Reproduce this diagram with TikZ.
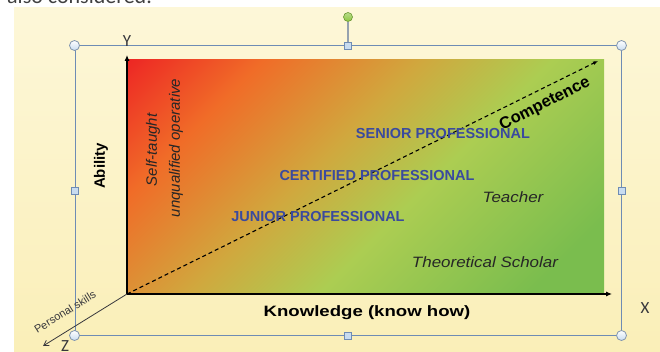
\documentclass[tikz,border=0pt]{standalone}
\usepackage{fontspec}
\setmainfont{Liberation Sans}
\newfontfamily\carl{Carlito}
\usetikzlibrary{arrows.meta}
\definecolor{cRed}{RGB}{237,36,36}
\definecolor{cOrange}{RGB}{240,108,40}
\definecolor{cOlive}{RGB}{208,168,62}
\definecolor{cYG}{RGB}{172,205,82}
\definecolor{cGreen}{RGB}{122,189,78}
\definecolor{bgTop}{RGB}{253,247,216}
\definecolor{bgMid}{RGB}{255,254,244}
\definecolor{bgBot}{RGB}{250,239,184}
\definecolor{frameBlue}{RGB}{110,140,180}
\definecolor{hBorder}{RGB}{130,150,175}
\definecolor{hFill}{RGB}{200,220,240}
\definecolor{gFill}{RGB}{140,198,63}
\definecolor{gBorder}{RGB}{105,150,50}
\definecolor{stemGray}{RGB}{150,162,175}
\definecolor{labBlue}{RGB}{58,74,158}
\definecolor{axisGray}{RGB}{55,55,60}
\pgfdeclarehorizontalshading{compshade}{100bp}{color(0bp)=(cRed); color(14bp)=(cRed); color(28bp)=(cOrange); color(44bp)=(cOlive); color(57bp)=(cYG); color(78bp)=(cGreen); color(100bp)=(cGreen)}
\tikzset{
  hcirc/.style={circle, draw=hBorder, line width=0.8pt, inner sep=0pt, minimum size=10pt, top color=white, bottom color=hFill},
  hsq/.style={rectangle, draw=frameBlue, fill=hFill, line width=0.8pt, inner sep=0pt, minimum size=7pt},
  gcirc/.style={circle, draw=gBorder, line width=0.6pt, inner sep=0pt, minimum size=9pt, top color=gFill!60!white, bottom color=gFill},
  framebox/.style={rectangle, draw=frameBlue, line width=1pt, inner sep=0pt},
  axis/.style={line width=1.1pt, black, -{Latex[length=6pt,width=5pt]}},
  zaxis/.style={line width=0.8pt, axisGray, -{Straight Barb[length=5pt,width=6pt]}},
  compline/.style={line width=1.1pt, black, dash pattern=on 4pt off 3pt, -{Latex[length=5pt,width=4pt]}},
  bluelab/.style={text=labBlue, font=\bfseries\fontsize{14.5}{16}\selectfont, inner sep=0pt},
  itlab/.style={text=black!85, font=\itshape\fontsize{15}{17}\selectfont, inner sep=0pt},
  axlab/.style={text=axisGray, font=\carl\fontsize{17}{19}\selectfont, inner sep=0pt}
}
\begin{document}
\begin{tikzpicture}[x=1pt,y=-1pt]
\useasboundingbox (0,0) rectangle (660,352);
\clip (0,0) rectangle (660,352);
\fill[white] (0,0) rectangle (660,352);
% page text cut at top
\node[anchor=base west, inner sep=0pt, text=black!75, font=\carl\fontsize{22}{24}\selectfont] (top) at (7,4) {also considered.};
% yellow panel
\shade[top color=bgTop, middle color=bgMid, bottom color=bgBot] (14,8) rectangle (660,352);
% gradient plane
\shade[shading=compshade, shading angle=-45] (127,60) rectangle (604,294);
% frame
\node[framebox, minimum width=546pt, minimum height=289pt] (F) at (348,190.5) {};
\node[gcirc] (R) at (348,17) {};
\draw[stemGray, line width=1.5pt] (R) -- (F.north);
\node[hcirc] (c1) at (F.north west) {};
\node[hcirc] (c2) at (F.north east) {};
\node[hcirc] (c3) at (F.south west) {};
\node[hcirc] (c4) at (F.south east) {};
\node[hsq] (s1) at (F.north) {};
\node[hsq] (s2) at (F.south) {};
\node[hsq] (s3) at (F.west) {};
\node[hsq] (s4) at (F.east) {};
% axes
\coordinate (O) at (127,294);
\coordinate (Ytip) at (127,55);
\coordinate (Xtip) at (612,294);
\coordinate (Ztip) at (43,346);
\coordinate (Ctip) at (598,61);
\draw[compline] (O) -- (Ctip);
\draw[axis] (O) -- (Ytip);
\draw[axis] (O) -- (Xtip);
\draw[zaxis] (O) -- (Ztip);
% axis letters
\node[axlab] (Y) at (127,41) {Y};
\node[axlab] (X) at (645,308) {X};
\node[axlab] (Z) at (65,346) {Z};
% axis titles
\node[inner sep=0pt, font=\bfseries\fontsize{15}{17}\selectfont, rotate=90] (abil) at (101,166) {Ability};
\node[inner sep=0pt, font=\bfseries\fontsize{15}{17}\selectfont, xscale=1.24] (know) at (367,313) {Knowledge (know how)};
\node[inner sep=0pt, font=\bfseries\fontsize{16.5}{18}\selectfont, rotate=27] (comp) at (545,104) {Competence};
\node[inner sep=0pt, text=axisGray, font=\fontsize{11}{13}\selectfont, rotate=32] (pers) at (65,312) {Personal skills};
% labels
\node[itlab, rotate=90] (self) at (153,150) {Self-taught};
\node[itlab, rotate=90] (unq) at (176,148) {unqualified operative};
\node[bluelab] (senior) at (443,134) {SENIOR PROFESSIONAL};
\node[bluelab] (cert) at (377,176) {CERTIFIED PROFESSIONAL};
\node[bluelab] (junior) at (318,217) {JUNIOR PROFESSIONAL};
\node[itlab, xscale=1.13] (teach) at (513,197) {Teacher};
\node[itlab, xscale=1.13] (theo) at (485,262) {Theoretical Scholar};
\end{tikzpicture}
\end{document}
